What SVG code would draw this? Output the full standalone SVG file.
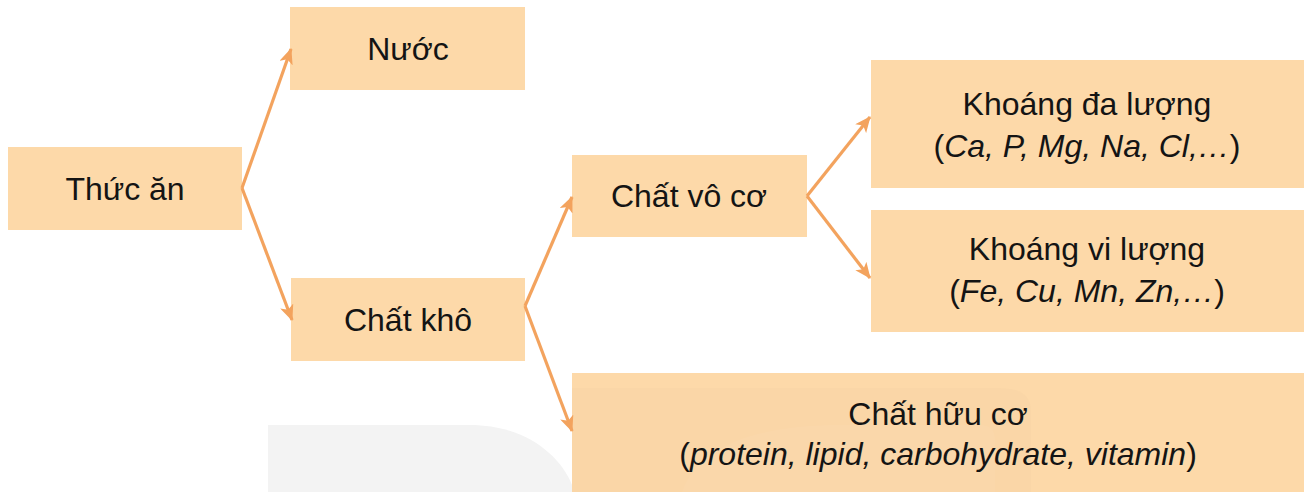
<svg xmlns="http://www.w3.org/2000/svg" width="1306" height="492" viewBox="0 0 1306 492">
<style>
.box{fill:#FDD9A9}
.t{font-family:"Liberation Sans",Arial,sans-serif;font-size:32px;fill:#141414;text-anchor:middle}
.i{font-style:italic}
.c{fill:none;stroke:#F3A35E;stroke-width:3.2;marker-end:url(#ah)}
</style>
<defs>
<marker id="ah" markerUnits="userSpaceOnUse" markerWidth="16" markerHeight="14" refX="15" refY="7" orient="auto">
<path d="M0,0 L16,7 L0,14 L4,7 Z" fill="#F3A35E"/>
</marker>
</defs>
<rect width="1306" height="492" fill="#fff"/>
<path d="M268,425 H470 C525,425 560,455 572,485 V492 H268 Z" fill="#f3f3f3"/>
<g id="n-thuc-an"><rect class="box" x="8" y="147" width="234" height="83"/><text class="t" x="125" y="200">Thức ăn</text></g>
<g id="n-nuoc"><rect class="box" x="290" y="7" width="235" height="83"/><text class="t" x="408" y="60">Nước</text></g>
<g id="n-chat-kho"><rect class="box" x="291" y="278" width="234" height="83"/><text class="t" x="408" y="331">Chất khô</text></g>
<g id="n-chat-vo-co"><rect class="box" x="572" y="155" width="235" height="82"/><text class="t" x="689" y="207">Chất vô cơ</text></g>
<g id="n-khoang-da-luong"><rect class="box" x="871" y="60" width="433" height="128"/><text class="t" x="1087" y="115">Khoáng đa lượng</text><text class="t" x="1087" y="157">(<tspan class="i">Ca, P, Mg, Na, Cl,…</tspan>)</text></g>
<g id="n-khoang-vi-luong"><rect class="box" x="871" y="210" width="433" height="122"/><text class="t" x="1087" y="260">Khoáng vi lượng</text><text class="t" x="1087" y="302">(<tspan class="i">Fe, Cu, Mn, Zn,…</tspan>)</text></g>
<g id="n-chat-huu-co"><rect class="box" x="572" y="373" width="732" height="119"/>
<path d="M572,388 H1000 Q1031,388 1031,410 V492 H572 Z" fill="#000" opacity="0.012"/>
<path d="M682,492 C700,440 770,425 840,425 H980 Q995,425 995,440 V492 Z" fill="#fff" opacity="0.04"/>
<text class="t" x="938" y="425">Chất hữu cơ</text><text class="t" x="938" y="465">(<tspan class="i">protein, lipid, carbohydrate, vitamin</tspan>)</text></g>
<g id="connectors">
<path class="c" d="M242,188 L291,49"/>
<path class="c" d="M242,188 L292,320"/>
<path class="c" d="M525,306 L572,197"/>
<path class="c" d="M525,306 L572,431"/>
<path class="c" d="M807,196 L870,117"/>
<path class="c" d="M807,196 L870,278"/>
</g>
</svg>
